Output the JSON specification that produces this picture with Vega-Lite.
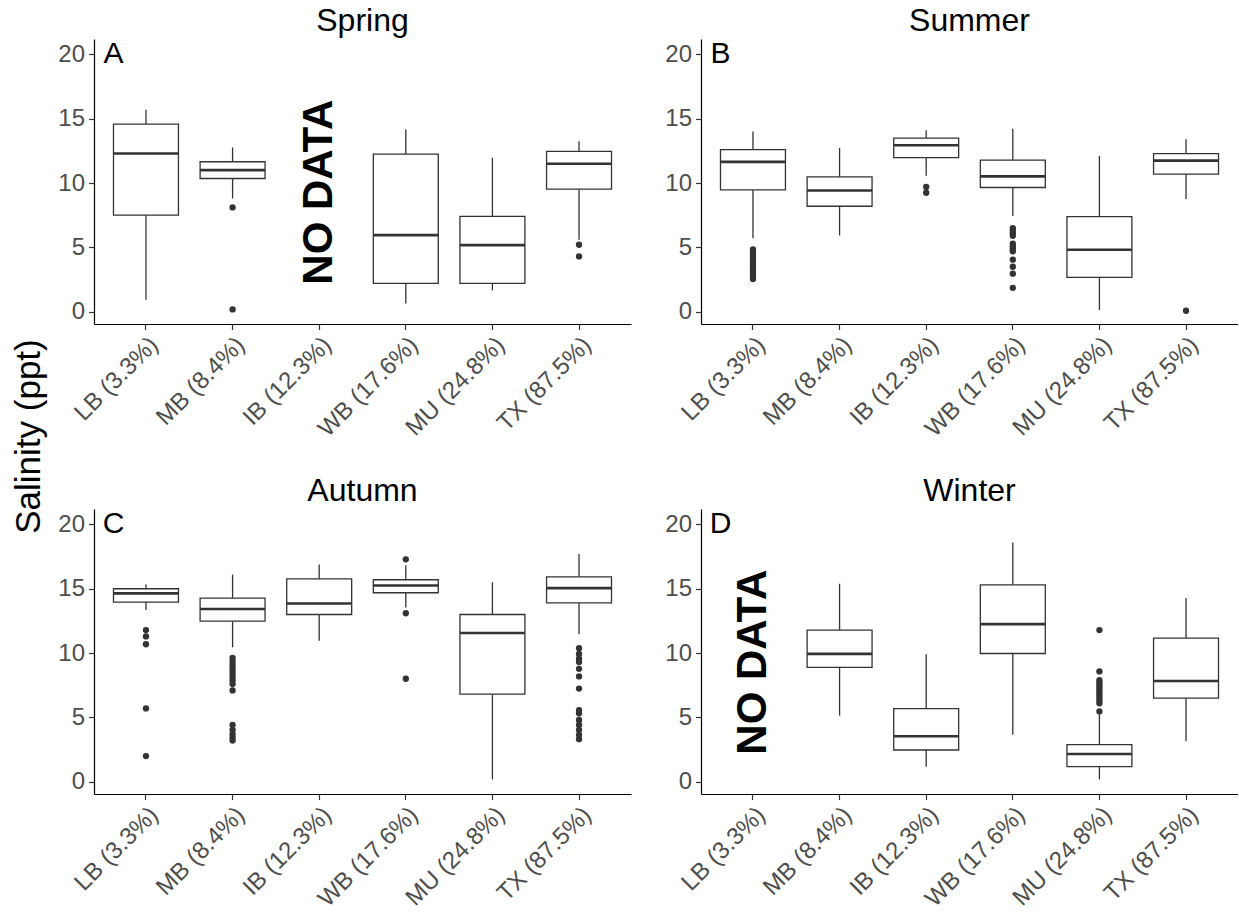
{
  "$schema": "https://vega.github.io/schema/vega-lite/v6.json",
  "padding": {"left": 11, "top": 5, "right": 0, "bottom": 5},
  "datasets": {
    "boxes": [
      {"season": "Spring", "site": "LB (3.3%)", "lo": 0.93, "q1": 7.51, "med": 12.3, "q3": 14.58, "hi": 15.7},
      {"season": "Spring", "site": "MB (8.4%)", "lo": 8.81, "q1": 10.36, "med": 11.01, "q3": 11.66, "hi": 12.77},
      {"season": "Spring", "site": "WB (17.6%)", "lo": 0.65, "q1": 2.2, "med": 5.96, "q3": 12.25, "hi": 14.17},
      {"season": "Spring", "site": "MU (24.8%)", "lo": 1.66, "q1": 2.2, "med": 5.18, "q3": 7.41, "hi": 11.97},
      {"season": "Spring", "site": "TX (87.5%)", "lo": 5.6, "q1": 9.53, "med": 11.5, "q3": 12.46, "hi": 13.26},
      {"season": "Summer", "site": "LB (3.3%)", "lo": 5.72, "q1": 9.48, "med": 11.65, "q3": 12.6, "hi": 14.02},
      {"season": "Summer", "site": "MB (8.4%)", "lo": 5.93, "q1": 8.2, "med": 9.43, "q3": 10.49, "hi": 12.73},
      {"season": "Summer", "site": "IB (12.3%)", "lo": 10.57, "q1": 11.98, "med": 12.94, "q3": 13.5, "hi": 14.1},
      {"season": "Summer", "site": "WB (17.6%)", "lo": 7.45, "q1": 9.66, "med": 10.52, "q3": 11.78, "hi": 14.23},
      {"season": "Summer", "site": "MU (24.8%)", "lo": 0.15, "q1": 2.68, "med": 4.82, "q3": 7.4, "hi": 12.11},
      {"season": "Summer", "site": "TX (87.5%)", "lo": 8.76, "q1": 10.7, "med": 11.75, "q3": 12.29, "hi": 13.4},
      {"season": "Autumn", "site": "LB (3.3%)", "lo": 13.36, "q1": 13.97, "med": 14.64, "q3": 15.0, "hi": 15.34},
      {"season": "Autumn", "site": "MB (8.4%)", "lo": 10.45, "q1": 12.48, "med": 13.43, "q3": 14.28, "hi": 16.1},
      {"season": "Autumn", "site": "IB (12.3%)", "lo": 10.97, "q1": 13.0, "med": 13.85, "q3": 15.77, "hi": 16.88},
      {"season": "Autumn", "site": "WB (17.6%)", "lo": 13.54, "q1": 14.69, "med": 15.26, "q3": 15.7, "hi": 16.82},
      {"season": "Autumn", "site": "MU (24.8%)", "lo": 0.18, "q1": 6.81, "med": 11.56, "q3": 13.0, "hi": 15.51},
      {"season": "Autumn", "site": "TX (87.5%)", "lo": 11.46, "q1": 13.9, "med": 15.05, "q3": 15.93, "hi": 17.7},
      {"season": "Winter", "site": "MB (8.4%)", "lo": 5.14, "q1": 8.89, "med": 9.94, "q3": 11.79, "hi": 15.39},
      {"season": "Winter", "site": "IB (12.3%)", "lo": 1.16, "q1": 2.47, "med": 3.54, "q3": 5.68, "hi": 9.92},
      {"season": "Winter", "site": "WB (17.6%)", "lo": 3.65, "q1": 9.97, "med": 12.25, "q3": 15.31, "hi": 18.6},
      {"season": "Winter", "site": "MU (24.8%)", "lo": 0.18, "q1": 1.18, "med": 2.16, "q3": 2.88, "hi": 5.24},
      {"season": "Winter", "site": "TX (87.5%)", "lo": 3.16, "q1": 6.5, "med": 7.83, "q3": 11.17, "hi": 14.28}
    ],
    "outliers": [
      {"season": "Spring", "site": "MB (8.4%)", "value": 8.11},
      {"season": "Spring", "site": "MB (8.4%)", "value": 0.18},
      {"season": "Spring", "site": "TX (87.5%)", "value": 5.21},
      {"season": "Spring", "site": "TX (87.5%)", "value": 4.3},
      {"season": "Summer", "site": "LB (3.3%)", "value": 4.85},
      {"season": "Summer", "site": "LB (3.3%)", "value": 4.7},
      {"season": "Summer", "site": "LB (3.3%)", "value": 4.5},
      {"season": "Summer", "site": "LB (3.3%)", "value": 4.3},
      {"season": "Summer", "site": "LB (3.3%)", "value": 4.1},
      {"season": "Summer", "site": "LB (3.3%)", "value": 3.9},
      {"season": "Summer", "site": "LB (3.3%)", "value": 3.7},
      {"season": "Summer", "site": "LB (3.3%)", "value": 3.5},
      {"season": "Summer", "site": "LB (3.3%)", "value": 3.3},
      {"season": "Summer", "site": "LB (3.3%)", "value": 3.1},
      {"season": "Summer", "site": "LB (3.3%)", "value": 2.9},
      {"season": "Summer", "site": "LB (3.3%)", "value": 2.7},
      {"season": "Summer", "site": "LB (3.3%)", "value": 2.55},
      {"season": "Summer", "site": "IB (12.3%)", "value": 9.7},
      {"season": "Summer", "site": "IB (12.3%)", "value": 9.25},
      {"season": "Summer", "site": "WB (17.6%)", "value": 6.5},
      {"season": "Summer", "site": "WB (17.6%)", "value": 6.3},
      {"season": "Summer", "site": "WB (17.6%)", "value": 6.1},
      {"season": "Summer", "site": "WB (17.6%)", "value": 5.9},
      {"season": "Summer", "site": "WB (17.6%)", "value": 5.3},
      {"season": "Summer", "site": "WB (17.6%)", "value": 5.1},
      {"season": "Summer", "site": "WB (17.6%)", "value": 4.9},
      {"season": "Summer", "site": "WB (17.6%)", "value": 4.7},
      {"season": "Summer", "site": "WB (17.6%)", "value": 4.05},
      {"season": "Summer", "site": "WB (17.6%)", "value": 3.5},
      {"season": "Summer", "site": "WB (17.6%)", "value": 2.96},
      {"season": "Summer", "site": "WB (17.6%)", "value": 1.86},
      {"season": "Summer", "site": "TX (87.5%)", "value": 0.08},
      {"season": "Autumn", "site": "LB (3.3%)", "value": 11.79},
      {"season": "Autumn", "site": "LB (3.3%)", "value": 11.3},
      {"season": "Autumn", "site": "LB (3.3%)", "value": 10.69},
      {"season": "Autumn", "site": "LB (3.3%)", "value": 5.7},
      {"season": "Autumn", "site": "LB (3.3%)", "value": 2.0},
      {"season": "Autumn", "site": "MB (8.4%)", "value": 9.63},
      {"season": "Autumn", "site": "MB (8.4%)", "value": 9.4},
      {"season": "Autumn", "site": "MB (8.4%)", "value": 9.15},
      {"season": "Autumn", "site": "MB (8.4%)", "value": 8.9},
      {"season": "Autumn", "site": "MB (8.4%)", "value": 8.65},
      {"season": "Autumn", "site": "MB (8.4%)", "value": 8.4},
      {"season": "Autumn", "site": "MB (8.4%)", "value": 8.15},
      {"season": "Autumn", "site": "MB (8.4%)", "value": 7.9},
      {"season": "Autumn", "site": "MB (8.4%)", "value": 7.6},
      {"season": "Autumn", "site": "MB (8.4%)", "value": 7.1},
      {"season": "Autumn", "site": "MB (8.4%)", "value": 4.42},
      {"season": "Autumn", "site": "MB (8.4%)", "value": 4.03},
      {"season": "Autumn", "site": "MB (8.4%)", "value": 3.7},
      {"season": "Autumn", "site": "MB (8.4%)", "value": 3.44},
      {"season": "Autumn", "site": "MB (8.4%)", "value": 3.21},
      {"season": "Autumn", "site": "WB (17.6%)", "value": 17.29},
      {"season": "Autumn", "site": "WB (17.6%)", "value": 13.1},
      {"season": "Autumn", "site": "WB (17.6%)", "value": 8.01},
      {"season": "Autumn", "site": "TX (87.5%)", "value": 10.38},
      {"season": "Autumn", "site": "TX (87.5%)", "value": 9.94},
      {"season": "Autumn", "site": "TX (87.5%)", "value": 9.56},
      {"season": "Autumn", "site": "TX (87.5%)", "value": 9.3},
      {"season": "Autumn", "site": "TX (87.5%)", "value": 8.78},
      {"season": "Autumn", "site": "TX (87.5%)", "value": 8.19},
      {"season": "Autumn", "site": "TX (87.5%)", "value": 7.24},
      {"season": "Autumn", "site": "TX (87.5%)", "value": 5.57},
      {"season": "Autumn", "site": "TX (87.5%)", "value": 5.32},
      {"season": "Autumn", "site": "TX (87.5%)", "value": 4.8},
      {"season": "Autumn", "site": "TX (87.5%)", "value": 4.42},
      {"season": "Autumn", "site": "TX (87.5%)", "value": 4.03},
      {"season": "Autumn", "site": "TX (87.5%)", "value": 3.65},
      {"season": "Autumn", "site": "TX (87.5%)", "value": 3.31},
      {"season": "Winter", "site": "MU (24.8%)", "value": 11.79},
      {"season": "Winter", "site": "MU (24.8%)", "value": 8.58},
      {"season": "Winter", "site": "MU (24.8%)", "value": 7.9},
      {"season": "Winter", "site": "MU (24.8%)", "value": 7.7},
      {"season": "Winter", "site": "MU (24.8%)", "value": 7.5},
      {"season": "Winter", "site": "MU (24.8%)", "value": 7.3},
      {"season": "Winter", "site": "MU (24.8%)", "value": 7.1},
      {"season": "Winter", "site": "MU (24.8%)", "value": 6.9},
      {"season": "Winter", "site": "MU (24.8%)", "value": 6.7},
      {"season": "Winter", "site": "MU (24.8%)", "value": 6.5},
      {"season": "Winter", "site": "MU (24.8%)", "value": 6.3},
      {"season": "Winter", "site": "MU (24.8%)", "value": 6.1},
      {"season": "Winter", "site": "MU (24.8%)", "value": 5.47}
    ],
    "letters": [
      {"season": "Spring", "site": "LB (3.3%)", "y": 20, "label": "A"},
      {"season": "Summer", "site": "LB (3.3%)", "y": 20, "label": "B"},
      {"season": "Autumn", "site": "LB (3.3%)", "y": 20, "label": "C"},
      {"season": "Winter", "site": "LB (3.3%)", "y": 20, "label": "D"}
    ],
    "nodata": [
      {"season": "Spring", "site": "IB (12.3%)", "y": 9.3, "label": "NO DATA"},
      {"season": "Winter", "site": "LB (3.3%)", "y": 9.3, "label": "NO DATA"}
    ]
  },
  "concat": [
    {
      "title": {"text": "Spring"},
      "width": 537, "height": 285,
      "layer": [
        {"data": {"name": "boxes"}, "transform": [{"filter": "datum.season === 'Spring'"}],
         "mark": {"type": "rule", "color": "#333333", "strokeWidth": 1.3},
         "encoding": {
           "x": {"field": "site", "type": "nominal", "title": null, "scale": {"type": "band", "domain": ["LB (3.3%)", "MB (8.4%)", "IB (12.3%)", "WB (17.6%)", "MU (24.8%)", "TX (87.5%)"], "paddingInner": 0.25, "paddingOuter": 0.225}},
           "y": {"field": "lo", "type": "quantitative", "title": "Salinity (ppt)", "scale": {"domain": [-0.95, 21.2], "nice": false, "zero": false}, "axis": {"values": [0, 5, 10, 15, 20], "titleFontSize": 35, "titleFontWeight": "normal", "titleColor": "black", "titleAngle": 270, "titleAlign": "center", "titleBaseline": "middle", "titleX": -66, "titleY": 397}},
           "y2": {"field": "hi"}}},
        {"data": {"name": "boxes"}, "transform": [{"filter": "datum.season === 'Spring'"}],
         "mark": {"type": "bar", "fill": "white", "stroke": "#333333", "strokeWidth": 1.3},
         "encoding": {"x": {"field": "site", "type": "nominal", "title": null}, "y": {"field": "q1", "type": "quantitative", "title": "Salinity (ppt)"}, "y2": {"field": "q3"}}},
        {"data": {"name": "boxes"}, "transform": [{"filter": "datum.season === 'Spring'"}],
         "mark": {"type": "tick", "color": "#333333", "thickness": 2.6, "size": 65, "opacity": 1},
         "encoding": {"x": {"field": "site", "type": "nominal", "title": null}, "y": {"field": "med", "type": "quantitative", "title": "Salinity (ppt)"}}},
        {"data": {"name": "outliers"}, "transform": [{"filter": "datum.season === 'Spring'"}],
         "mark": {"type": "circle", "color": "#333333", "opacity": 1, "size": 40},
         "encoding": {"x": {"field": "site", "type": "nominal", "title": null}, "y": {"field": "value", "type": "quantitative", "title": "Salinity (ppt)"}}},
        {"data": {"name": "letters"}, "transform": [{"filter": "datum.season === 'Spring'"}],
         "mark": {"type": "text", "fontSize": 30, "color": "black", "align": "center", "baseline": "middle"},
         "encoding": {"x": {"field": "site", "type": "nominal", "title": null, "bandPosition": 0}, "y": {"field": "y", "type": "quantitative", "title": "Salinity (ppt)"}, "text": {"field": "label"}}},
        {"data": {"name": "nodata"}, "transform": [{"filter": "datum.season === 'Spring'"}],
         "mark": {"type": "text", "fontSize": 42, "fontWeight": "bold", "color": "black", "angle": 270, "align": "center", "baseline": "middle"},
         "encoding": {"x": {"field": "site", "type": "nominal", "title": null}, "y": {"field": "y", "type": "quantitative", "title": "Salinity (ppt)"}, "text": {"field": "label"}}}
      ]
    },
    {
      "title": {"text": "Summer"},
      "width": 537, "height": 285,
      "layer": [
        {"data": {"name": "boxes"}, "transform": [{"filter": "datum.season === 'Summer'"}],
         "mark": {"type": "rule", "color": "#333333", "strokeWidth": 1.3},
         "encoding": {
           "x": {"field": "site", "type": "nominal", "title": null, "scale": {"type": "band", "domain": ["LB (3.3%)", "MB (8.4%)", "IB (12.3%)", "WB (17.6%)", "MU (24.8%)", "TX (87.5%)"], "paddingInner": 0.25, "paddingOuter": 0.225}},
           "y": {"field": "lo", "type": "quantitative", "title": null, "scale": {"domain": [-0.95, 21.2], "nice": false, "zero": false}, "axis": {"values": [0, 5, 10, 15, 20]}},
           "y2": {"field": "hi"}}},
        {"data": {"name": "boxes"}, "transform": [{"filter": "datum.season === 'Summer'"}],
         "mark": {"type": "bar", "fill": "white", "stroke": "#333333", "strokeWidth": 1.3},
         "encoding": {"x": {"field": "site", "type": "nominal", "title": null}, "y": {"field": "q1", "type": "quantitative", "title": null}, "y2": {"field": "q3"}}},
        {"data": {"name": "boxes"}, "transform": [{"filter": "datum.season === 'Summer'"}],
         "mark": {"type": "tick", "color": "#333333", "thickness": 2.6, "size": 65, "opacity": 1},
         "encoding": {"x": {"field": "site", "type": "nominal", "title": null}, "y": {"field": "med", "type": "quantitative", "title": null}}},
        {"data": {"name": "outliers"}, "transform": [{"filter": "datum.season === 'Summer'"}],
         "mark": {"type": "circle", "color": "#333333", "opacity": 1, "size": 40},
         "encoding": {"x": {"field": "site", "type": "nominal", "title": null}, "y": {"field": "value", "type": "quantitative", "title": null}}},
        {"data": {"name": "letters"}, "transform": [{"filter": "datum.season === 'Summer'"}],
         "mark": {"type": "text", "fontSize": 30, "color": "black", "align": "center", "baseline": "middle"},
         "encoding": {"x": {"field": "site", "type": "nominal", "title": null, "bandPosition": 0}, "y": {"field": "y", "type": "quantitative", "title": null}, "text": {"field": "label"}}}
      ]
    },
    {
      "title": {"text": "Autumn"},
      "width": 537, "height": 285,
      "layer": [
        {"data": {"name": "boxes"}, "transform": [{"filter": "datum.season === 'Autumn'"}],
         "mark": {"type": "rule", "color": "#333333", "strokeWidth": 1.3},
         "encoding": {
           "x": {"field": "site", "type": "nominal", "title": null, "scale": {"type": "band", "domain": ["LB (3.3%)", "MB (8.4%)", "IB (12.3%)", "WB (17.6%)", "MU (24.8%)", "TX (87.5%)"], "paddingInner": 0.25, "paddingOuter": 0.225}},
           "y": {"field": "lo", "type": "quantitative", "title": null, "scale": {"domain": [-0.95, 21.2], "nice": false, "zero": false}, "axis": {"values": [0, 5, 10, 15, 20]}},
           "y2": {"field": "hi"}}},
        {"data": {"name": "boxes"}, "transform": [{"filter": "datum.season === 'Autumn'"}],
         "mark": {"type": "bar", "fill": "white", "stroke": "#333333", "strokeWidth": 1.3},
         "encoding": {"x": {"field": "site", "type": "nominal", "title": null}, "y": {"field": "q1", "type": "quantitative", "title": null}, "y2": {"field": "q3"}}},
        {"data": {"name": "boxes"}, "transform": [{"filter": "datum.season === 'Autumn'"}],
         "mark": {"type": "tick", "color": "#333333", "thickness": 2.6, "size": 65, "opacity": 1},
         "encoding": {"x": {"field": "site", "type": "nominal", "title": null}, "y": {"field": "med", "type": "quantitative", "title": null}}},
        {"data": {"name": "outliers"}, "transform": [{"filter": "datum.season === 'Autumn'"}],
         "mark": {"type": "circle", "color": "#333333", "opacity": 1, "size": 40},
         "encoding": {"x": {"field": "site", "type": "nominal", "title": null}, "y": {"field": "value", "type": "quantitative", "title": null}}},
        {"data": {"name": "letters"}, "transform": [{"filter": "datum.season === 'Autumn'"}],
         "mark": {"type": "text", "fontSize": 30, "color": "black", "align": "center", "baseline": "middle"},
         "encoding": {"x": {"field": "site", "type": "nominal", "title": null, "bandPosition": 0}, "y": {"field": "y", "type": "quantitative", "title": null}, "text": {"field": "label"}}}
      ]
    },
    {
      "title": {"text": "Winter"},
      "width": 537, "height": 285,
      "layer": [
        {"data": {"name": "boxes"}, "transform": [{"filter": "datum.season === 'Winter'"}],
         "mark": {"type": "rule", "color": "#333333", "strokeWidth": 1.3},
         "encoding": {
           "x": {"field": "site", "type": "nominal", "title": null, "scale": {"type": "band", "domain": ["LB (3.3%)", "MB (8.4%)", "IB (12.3%)", "WB (17.6%)", "MU (24.8%)", "TX (87.5%)"], "paddingInner": 0.25, "paddingOuter": 0.225}},
           "y": {"field": "lo", "type": "quantitative", "title": null, "scale": {"domain": [-0.95, 21.2], "nice": false, "zero": false}, "axis": {"values": [0, 5, 10, 15, 20]}},
           "y2": {"field": "hi"}}},
        {"data": {"name": "boxes"}, "transform": [{"filter": "datum.season === 'Winter'"}],
         "mark": {"type": "bar", "fill": "white", "stroke": "#333333", "strokeWidth": 1.3},
         "encoding": {"x": {"field": "site", "type": "nominal", "title": null}, "y": {"field": "q1", "type": "quantitative", "title": null}, "y2": {"field": "q3"}}},
        {"data": {"name": "boxes"}, "transform": [{"filter": "datum.season === 'Winter'"}],
         "mark": {"type": "tick", "color": "#333333", "thickness": 2.6, "size": 65, "opacity": 1},
         "encoding": {"x": {"field": "site", "type": "nominal", "title": null}, "y": {"field": "med", "type": "quantitative", "title": null}}},
        {"data": {"name": "outliers"}, "transform": [{"filter": "datum.season === 'Winter'"}],
         "mark": {"type": "circle", "color": "#333333", "opacity": 1, "size": 40},
         "encoding": {"x": {"field": "site", "type": "nominal", "title": null}, "y": {"field": "value", "type": "quantitative", "title": null}}},
        {"data": {"name": "letters"}, "transform": [{"filter": "datum.season === 'Winter'"}],
         "mark": {"type": "text", "fontSize": 30, "color": "black", "align": "center", "baseline": "middle"},
         "encoding": {"x": {"field": "site", "type": "nominal", "title": null, "bandPosition": 0}, "y": {"field": "y", "type": "quantitative", "title": null}, "text": {"field": "label"}}},
        {"data": {"name": "nodata"}, "transform": [{"filter": "datum.season === 'Winter'"}],
         "mark": {"type": "text", "fontSize": 42, "fontWeight": "bold", "color": "black", "angle": 270, "align": "center", "baseline": "middle"},
         "encoding": {"x": {"field": "site", "type": "nominal", "title": null}, "y": {"field": "y", "type": "quantitative", "title": null}, "text": {"field": "label"}}}
      ]
    }
  ],
  "columns": 2,
  "spacing": {"row": 185, "column": 70},
  "bounds": "flush",
  "config": {
    "font": "Liberation Sans",
    "view": {"stroke": null},
    "axis": {"grid": false, "domainColor": "#000000", "domainWidth": 1.2, "tickColor": "#333333", "tickWidth": 1.2, "tickSize": 5.5, "labelColor": "#4d4d4d", "labelFontSize": 24, "labelFont": "Liberation Sans", "titleFont": "Liberation Sans"},
    "axisX": {"labelAngle": -45, "labelPadding": 3},
    "axisY": {"labelPadding": 4, "labelFlush": false},
    "title": {"font": "Liberation Sans", "fontSize": 32, "fontWeight": "normal", "color": "black", "anchor": "middle", "frame": "group", "offset": 1, "baseline": "alphabetic"}
  }
}
